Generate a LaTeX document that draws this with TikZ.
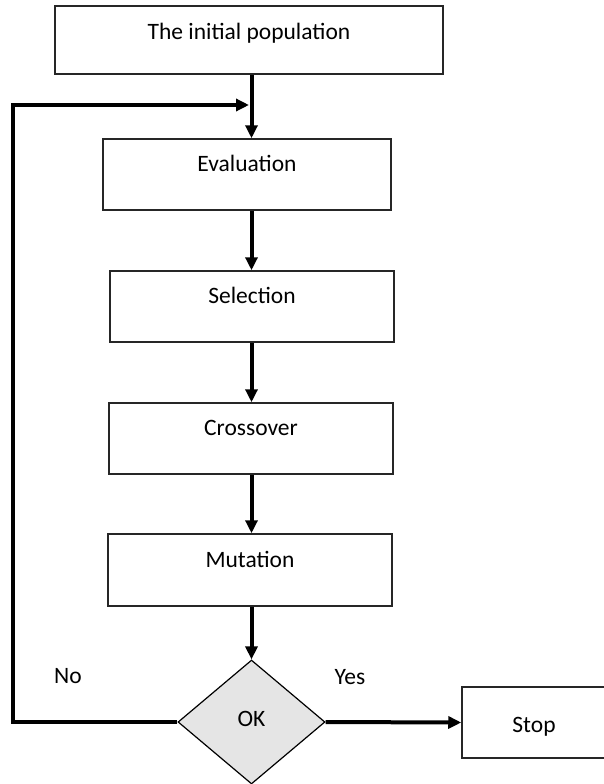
\documentclass[tikz,border=0pt]{standalone}
\usepackage{fontspec}
\setmainfont{Carlito}
\usetikzlibrary{shapes.geometric,arrows.meta}
\tikzset{
  box/.style={draw=black!85, line width=1.5pt, rectangle, inner sep=0pt,
    font=\fontsize{23.5}{28}\selectfont, text height=16pt, text depth=22pt},
  arr/.style={line width=4pt, -{Triangle[length=13pt,width=12pt]}},
  lbl/.style={font=\fontsize{23.5}{28}\selectfont, inner sep=0pt},
}
\begin{document}
\begin{tikzpicture}[x=1pt,y=-1pt]
\useasboundingbox (0,0) rectangle (604,784);
\node[box, minimum width=388pt, minimum height=68pt, text height=16pt, text depth=17pt] (init) at (249,40) {The initial population};
\node[box, minimum width=288pt, minimum height=71pt] (eval) at (247,174.5) {Evaluation};
\node[box, minimum width=284pt, minimum height=71pt] (sel) at (252,306.5) {Selection};
\node[box, minimum width=284pt, minimum height=71pt] (cross) at (251,438.5) {Crossover};
\node[box, minimum width=284pt, minimum height=72pt] (mut) at (250,570) {Mutation};
\node[diamond, draw=black, line width=1.2pt, fill=black!10, minimum width=147pt, minimum height=124pt, inner sep=0pt, font=\fontsize{23.5}{28}\selectfont] (ok) at (251.5,722) {\raisebox{6pt}{OK}};
\node[box, minimum width=144pt, minimum height=71pt, text height=26pt, text depth=6pt] (stop) at (534,722.5) {Stop};
\node[lbl] (no) at (68,676) {No};
\node[lbl] (yes) at (350,677) {Yes};
\coordinate (fbl) at (13,722);
\coordinate (fbt) at (13,105);
\coordinate (fbe) at (249,105);
% vertical arrows
\draw[arr] (init.south -| ok.north) -- (eval.north -| ok.north);
\draw[arr] (eval.south -| ok.north) -- (sel.north -| ok.north);
\draw[arr] (sel.south -| ok.north) -- (cross.north -| ok.north);
\draw[arr] (cross.south -| ok.north) -- (mut.north -| ok.north);
\draw[arr] (mut.south -| ok.north) -- (ok.north);
% feedback loop
\draw[arr] (ok.west) -- (fbl) -- (fbt) -- (fbe);
% yes branch
\draw[arr] (ok.east) -- (stop.west);
\end{tikzpicture}
\end{document}
